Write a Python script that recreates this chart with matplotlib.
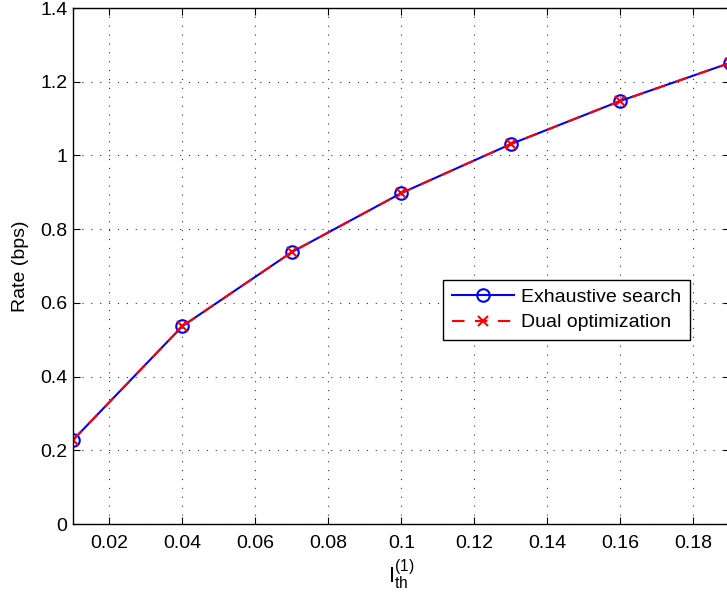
import numpy as np
import matplotlib.pyplot as plt
from matplotlib.ticker import FuncFormatter

# Interference threshold values and achieved rates
umbral = [0.01, 0.04, 0.07, 0.10, 0.13, 0.16, 0.19]
tasa_exhaustiva = [0.228, 0.537, 0.738, 0.898, 1.031, 1.148, 1.251]
tasa_dual = [0.228, 0.537, 0.738, 0.898, 1.031, 1.148, 1.251]

plt.rcParams['font.family'] = ['Liberation Sans', 'DejaVu Sans']
plt.rcParams['mathtext.fontset'] = 'custom'
plt.rcParams['mathtext.rm'] = 'Liberation Sans'

fig = plt.figure(figsize=(7.27, 5.98), dpi=100)
ax = fig.add_axes([0.1004, 0.1237, 0.9036, 0.8629])

ax.plot(umbral, tasa_exhaustiva, '-', color='blue', lw=1.5, marker='o',
        ms=9, mfc='none', mec='blue', mew=1.5, label='Exhaustive search')
ax.plot(umbral, tasa_dual, '--', color='red', lw=1.5, marker='x',
        ms=7, mec='red', mew=1.5, dashes=(6, 5), label='Dual optimization')

ax.set_xlim(0.01, 0.19)
ax.set_ylim(0, 1.4)
ax.set_xticks(np.arange(0.02, 0.181, 0.02))
ax.set_yticks(np.arange(0, 1.41, 0.2))
fmt = FuncFormatter(lambda v, p: '%g' % round(v, 4))
ax.xaxis.set_major_formatter(fmt)
ax.yaxis.set_major_formatter(fmt)

ax.tick_params(direction='in', top=True, right=True, labelsize=14, length=5)
ax.tick_params(axis='x', pad=8)
ax.tick_params(axis='y', pad=4)
ax.grid(True, color='#333333', linestyle=(0, (1, 7)), lw=0.8)
for s in ax.spines.values():
    s.set_linewidth(1.0)

ax.set_ylabel('Rate (bps)', fontsize=14, labelpad=8)
ax.set_xlabel(r'$\mathrm{I}_{\mathrm{th}}^{(1)}$', fontsize=16, labelpad=4)

leg = ax.legend(loc='center', bbox_to_anchor=(0.751, 0.415),
                fontsize=14, fancybox=False, framealpha=1,
                edgecolor='black', handlelength=3.2, borderpad=0.45,
                labelspacing=0.4, handletextpad=0.35, borderaxespad=0)
leg.get_frame().set_linewidth(1.0)

fig.savefig('out.png', dpi=100)
